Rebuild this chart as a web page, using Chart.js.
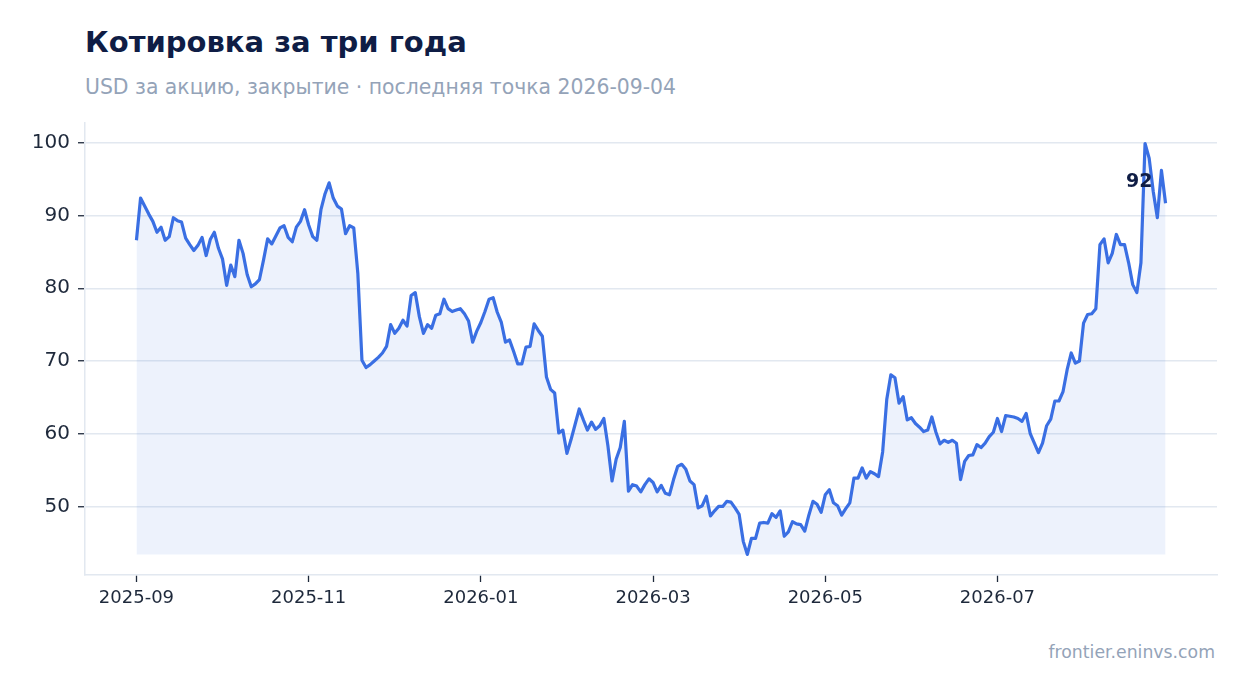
<!DOCTYPE html>
<html>
<head>
<meta charset="utf-8">
<script src="https://cdn.jsdelivr.net/npm/chart.js@4.4.1/dist/chart.umd.min.js"></script>
<style>
  html, body { margin: 0; padding: 0; background: #fff; }
  body { width: 1247px; height: 693px; position: relative; overflow: hidden; font-family: "DejaVu Sans", sans-serif; }
  .title { position: absolute; left: 85px; top: 27.5px; font-size: 29px; line-height: 1; font-weight: bold; color: #0f1d45; white-space: nowrap; }
  .subtitle { position: absolute; left: 85px; top: 77px; font-size: 20.4px; line-height: 1; color: #94a3b8; white-space: nowrap; }
  .source { position: absolute; right: 32px; top: 644px; font-size: 17.3px; line-height: 1; color: #94a3b8; white-space: nowrap; }
  #quoteChart { position: absolute; left: 0; top: 0; }
</style>
</head>
<body>
<div class="title">Котировка за три года</div>
<div class="subtitle">USD за акцию, закрытие · последняя точка 2026-09-04</div>
<div class="source">frontier.eninvs.com</div>
<canvas id="quoteChart" width="1247" height="693"></canvas>
<script>
// closing prices, one per trading day, 2025-09-01 .. 2026-09-04
const closePrice = [
  86.6, 92.4, 91.3, 90.2, 89.2, 87.7, 88.4, 86.6, 87.1, 89.7, 89.3, 89.1,
  86.9, 86.0, 85.2, 85.9, 87.0, 84.5, 86.7, 87.7, 85.5, 84.0, 80.4, 83.2,
  81.6, 86.6, 84.8, 81.9, 80.2, 80.6, 81.2, 83.9, 86.8, 86.1, 87.2, 88.3,
  88.6, 87.0, 86.4, 88.4, 89.2, 90.8, 88.7, 87.1, 86.6, 90.8, 93.0, 94.5,
  92.4, 91.3, 90.9, 87.5, 88.6, 88.3, 82.0, 70.1, 69.1, 69.5, 70.0, 70.5,
  71.1, 72.0, 75.0, 73.8, 74.5, 75.6, 74.8, 79.0, 79.4, 76.1, 73.8, 75.0,
  74.5, 76.3, 76.5, 78.5, 77.2, 76.8, 77.0, 77.2, 76.5, 75.5, 72.6, 74.1,
  75.3, 76.8, 78.5, 78.7, 76.7, 75.3, 72.6, 72.9, 71.3, 69.6, 69.6, 71.9,
  72.0, 75.1, 74.2, 73.4, 67.8, 66.1, 65.6, 60.1, 60.5, 57.3, 59.2, 61.3,
  63.4, 61.9, 60.5, 61.6, 60.6, 61.1, 62.1, 58.3, 53.5, 56.5, 58.1, 61.7,
  52.1, 53.0, 52.8, 52.0, 53.0, 53.8, 53.3, 52.0, 52.9, 51.8, 51.6, 53.7,
  55.5, 55.8, 55.1, 53.5, 53.0, 49.8, 50.1, 51.4, 48.7, 49.4, 50.0, 50.0,
  50.7, 50.6, 49.8, 48.9, 45.2, 43.4, 45.6, 45.6, 47.7, 47.8, 47.7, 49.0,
  48.5, 49.4, 45.9, 46.5, 47.9, 47.6, 47.5, 46.6, 48.8, 50.7, 50.3, 49.2,
  51.6, 52.3, 50.5, 50.1, 48.8, 49.7, 50.5, 53.9, 53.9, 55.3, 53.9, 54.8,
  54.5, 54.1, 57.5, 64.7, 68.1, 67.7, 64.2, 65.1, 61.9, 62.2, 61.4, 60.9,
  60.3, 60.5, 62.3, 60.2, 58.6, 59.1, 58.8, 59.1, 58.7, 53.7, 56.2, 57.0,
  57.1, 58.5, 58.1, 58.7, 59.6, 60.2, 62.1, 60.3, 62.5, 62.4, 62.3, 62.1,
  61.7, 62.8, 60.0, 58.7, 57.4, 58.7, 61.1, 62.0, 64.5, 64.5, 65.8, 68.8,
  71.1, 69.7, 70.0, 75.2, 76.4, 76.5, 77.2, 86.0, 86.8, 83.5, 84.8, 87.4,
  86.0, 86.0, 83.5, 80.5, 79.4, 83.5, 99.9, 97.9, 93.3, 89.7, 96.2, 91.7
];

// x axis labels sit on every 42nd trading day
const tickIndex = [0, 42, 84, 126, 168, 210];
const tickLabels = ['2025-09', '2025-11', '2026-01', '2026-03', '2026-05', '2026-07'];
const yTicks = [50, 60, 70, 80, 90, 100];

const fontFamily = '"DejaVu Sans", sans-serif';
const inkColor = '#1e293b';
const gridColor = '#e2e8f0';

const lo = Math.min(...closePrice);
const hi = Math.max(...closePrice);
const yPad = (hi - lo) * 0.05;
const xPad = (closePrice.length - 1) * 0.05;

// prints the rounded last close next to the line end
const lastValueLabel = {
  id: 'lastValueLabel',
  afterDatasetsDraw(chart) {
    const pts = chart.getDatasetMeta(0).data;
    const p = pts[pts.length - 1];
    const c = chart.ctx;
    c.save();
    c.font = 'bold 19px ' + fontFamily;
    c.fillStyle = '#0f1d45';
    c.textAlign = 'right';
    c.textBaseline = 'alphabetic';
    c.fillText(String(Math.round(closePrice[closePrice.length - 1])), p.x - 13, p.y - 16);
    c.restore();
  }
};

const ctx = document.getElementById('quoteChart').getContext('2d');
new Chart(ctx, {
  type: 'line',
  data: {
    datasets: [{
      data: closePrice.map((v, i) => ({ x: i, y: v })),
      borderColor: '#3a6fe3',
      borderWidth: 3.2,
      borderJoinStyle: 'round',
      backgroundColor: 'rgba(59, 111, 227, 0.09)',
      fill: { value: lo },
      pointRadius: 0,
      tension: 0
    }]
  },
  options: {
    responsive: false,
    animation: false,
    layout: { padding: { top: 123, right: 30, left: 0, bottom: 0 } },
    plugins: {
      legend: { display: false },
      tooltip: { enabled: false }
    },
    scales: {
      x: {
        type: 'linear',
        min: -xPad,
        max: closePrice.length - 1 + xPad,
        afterBuildTicks: (s) => { s.ticks = tickIndex.map(v => ({ value: v })); },
        afterFit: (s) => { s.height = 118; },
        ticks: {
          autoSkip: false,
          maxRotation: 0,
          padding: 6,
          color: inkColor,
          font: { family: fontFamily, size: 18 },
          callback: (v) => tickLabels[tickIndex.indexOf(v)]
        },
        grid: { drawOnChartArea: false, tickLength: 7, tickColor: inkColor, tickWidth: 1.3 },
        border: { color: gridColor, width: 1.5 }
      },
      y: {
        min: lo - yPad,
        max: hi + yPad,
        afterBuildTicks: (s) => { s.ticks = yTicks.map(v => ({ value: v })); },
        afterFit: (s) => { s.width = 85; },
        ticks: {
          padding: 8,
          color: inkColor,
          font: { family: fontFamily, size: 20 }
        },
        grid: { color: gridColor, lineWidth: 1.5, tickLength: 7, tickColor: inkColor, tickWidth: 1.3 },
        border: { color: gridColor, width: 1.5 }
      }
    }
  },
  plugins: [lastValueLabel]
});
</script>
</body>
</html>
